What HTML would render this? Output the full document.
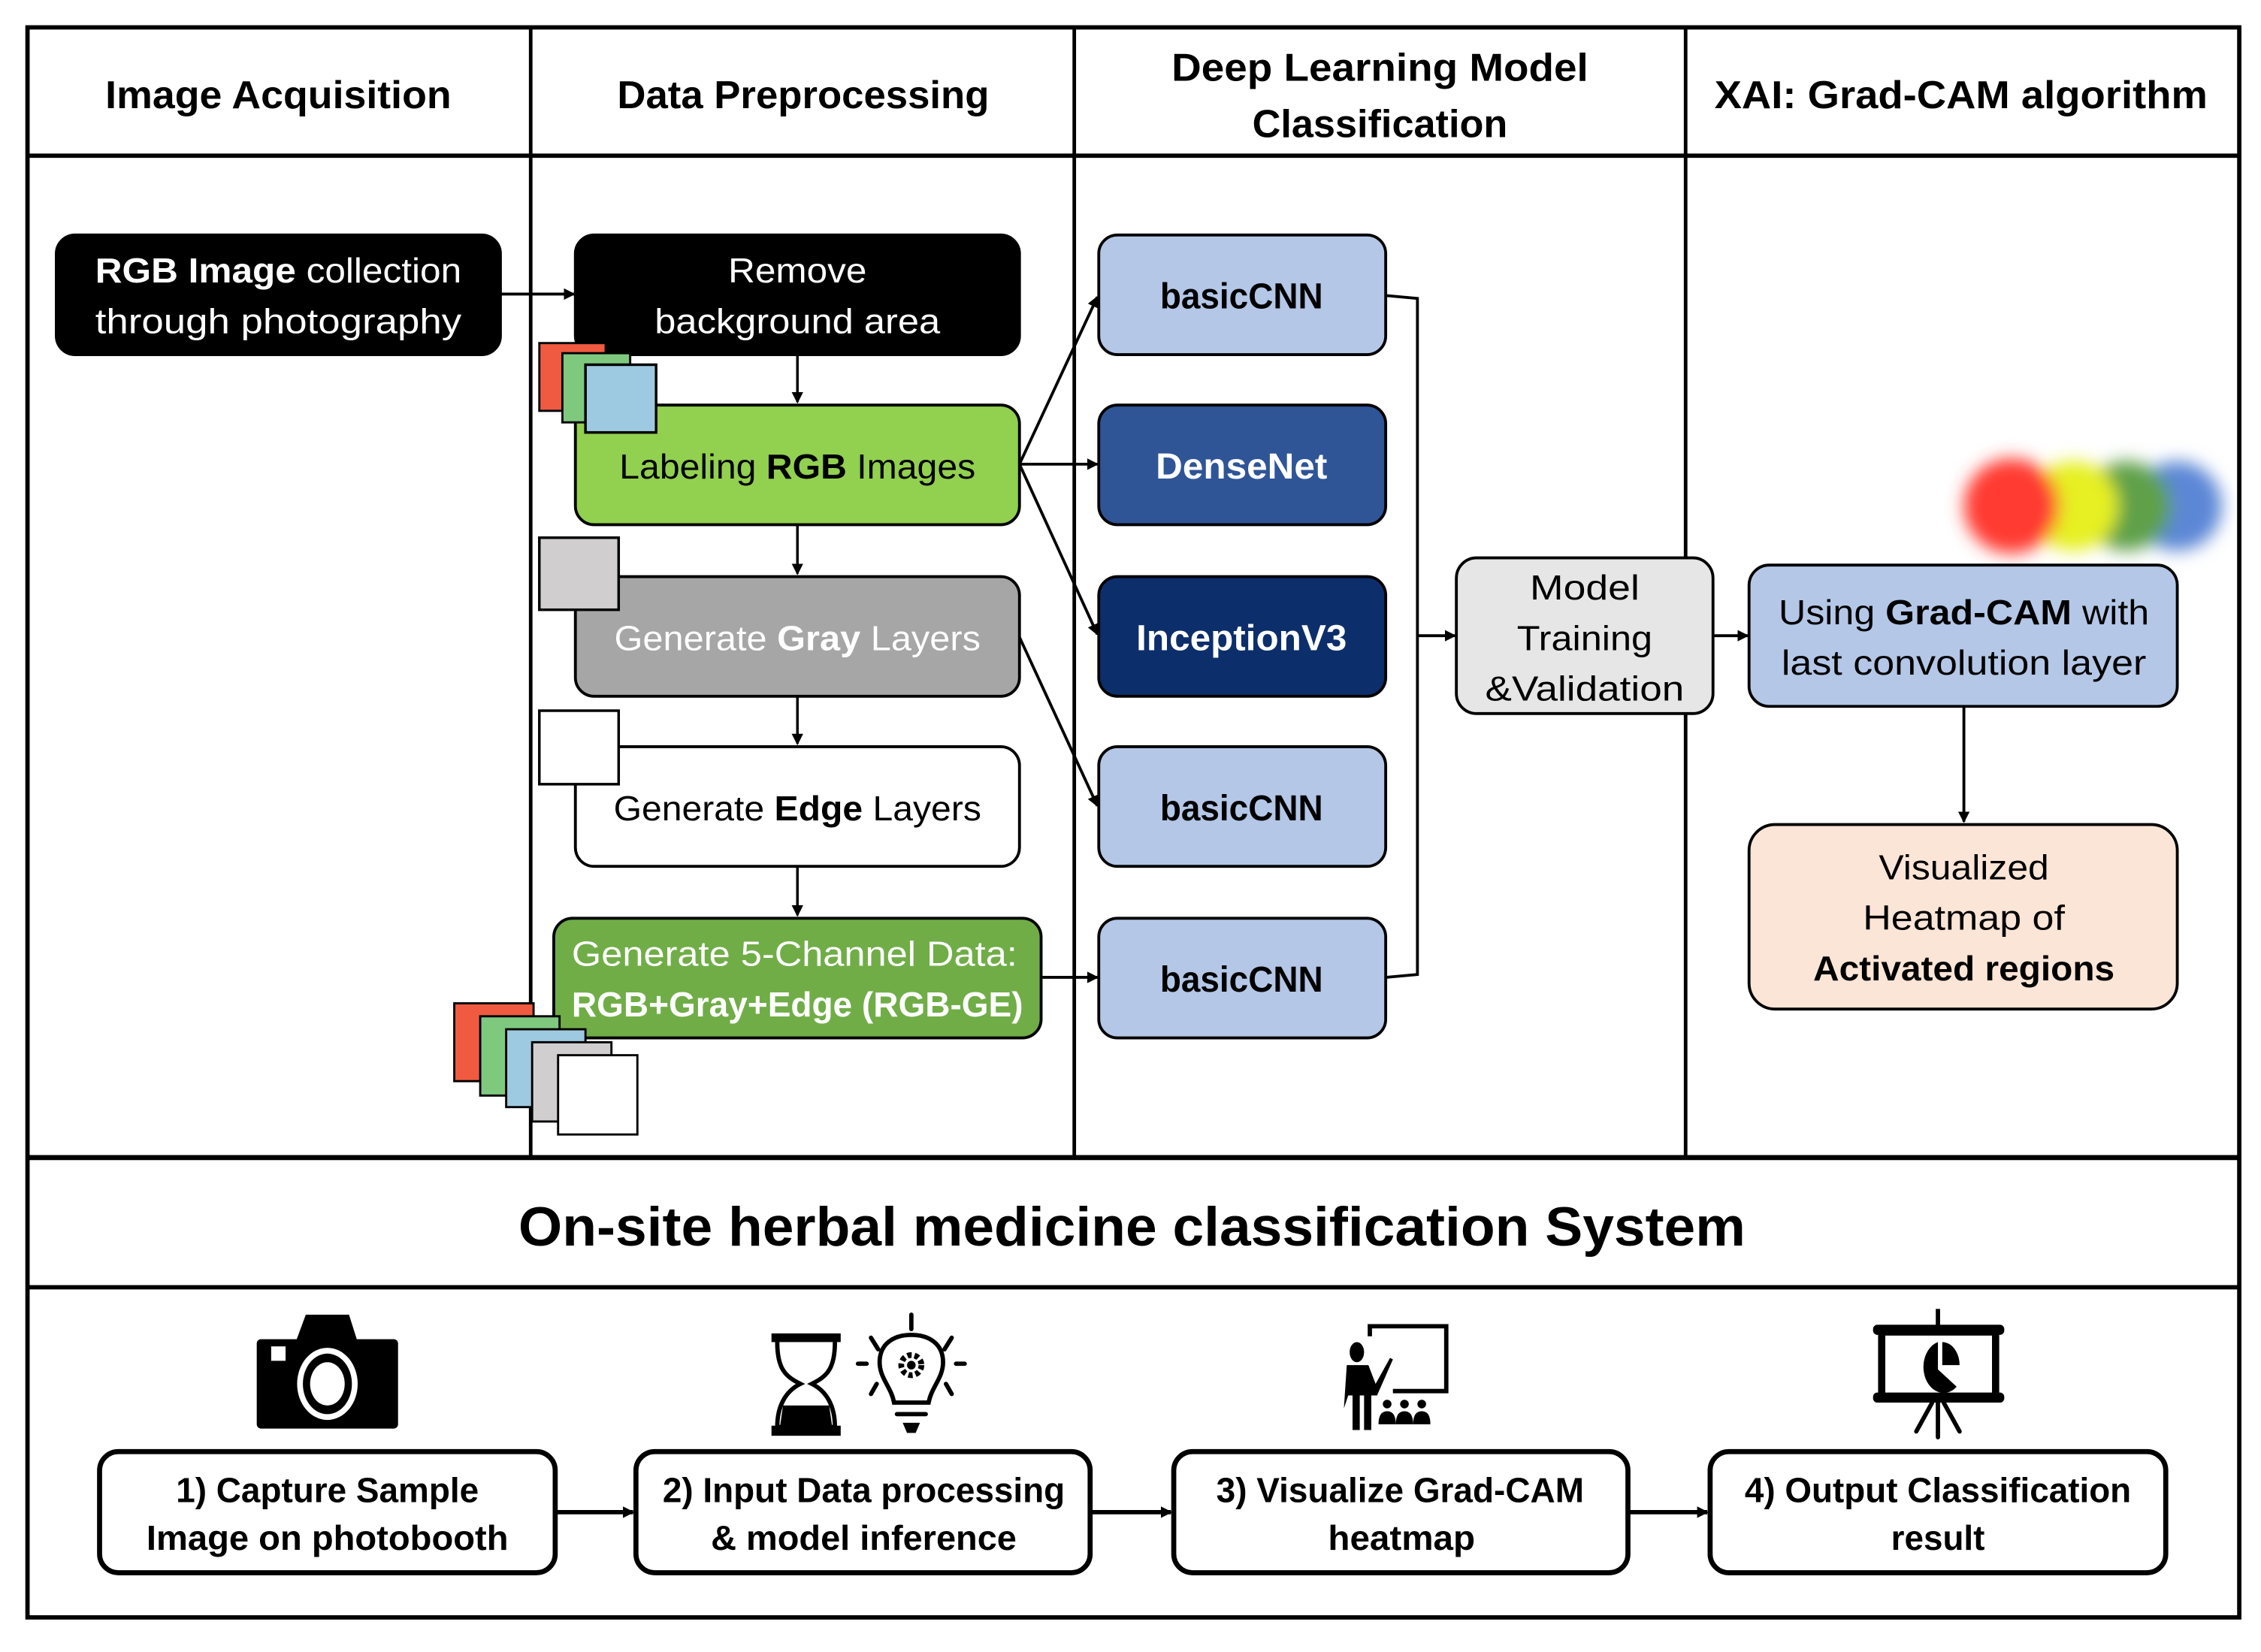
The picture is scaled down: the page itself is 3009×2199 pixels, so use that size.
<!DOCTYPE html>
<html><head><meta charset="utf-8"><style>
html,body{margin:0;padding:0;background:#fff;}
svg{display:block;}
text{font-family:"Liberation Sans",sans-serif;}
</style></head><body>
<svg width="3009" height="2199" viewBox="0 0 1568 1146" xmlns="http://www.w3.org/2000/svg">
<defs>
<marker id="ah" markerWidth="8" markerHeight="8" refX="7" refY="4" orient="auto" markerUnits="userSpaceOnUse">
<path d="M0,0 L8,4 L0,8 Z" fill="#000"/></marker>
<filter id="bl" x="-50%" y="-50%" width="200%" height="200%"><feGaussianBlur stdDeviation="6"/></filter>
</defs>
<rect width="1568" height="1146" fill="#fff"/>
<!-- frame -->
<rect x="19" y="19" width="1534" height="1103" fill="none" stroke="#000" stroke-width="3"/>
<line x1="19" y1="108" x2="1553" y2="108" stroke="#000" stroke-width="3"/>
<line x1="19" y1="803" x2="1553" y2="803" stroke="#000" stroke-width="3.5"/>
<line x1="19" y1="893" x2="1553" y2="893" stroke="#000" stroke-width="3"/>
<line x1="368" y1="19" x2="368" y2="803" stroke="#000" stroke-width="2.5"/>
<line x1="745" y1="19" x2="745" y2="803" stroke="#000" stroke-width="2.5"/>
<line x1="1169" y1="19" x2="1169" y2="803" stroke="#000" stroke-width="2.5"/>
<!-- headers -->
<g font-weight="bold" font-size="27" text-anchor="middle" fill="#000">
<text x="193" y="75" textLength="240" lengthAdjust="spacingAndGlyphs">Image Acquisition</text>
<text x="557" y="75" textLength="258" lengthAdjust="spacingAndGlyphs">Data Preprocessing</text>
<text x="957" y="56" textLength="289" lengthAdjust="spacingAndGlyphs">Deep Learning Model</text>
<text x="957" y="95" textLength="177" lengthAdjust="spacingAndGlyphs">Classification</text>
<text x="1360" y="75" textLength="342" lengthAdjust="spacingAndGlyphs">XAI: Grad-CAM algorithm</text>
</g>
<!-- col1 -->
<rect x="39" y="163" width="308" height="83" rx="13" fill="#000" stroke="#000" stroke-width="2"/>
<g font-size="24" fill="#fff" text-anchor="middle">
<text x="193" y="196" textLength="254" lengthAdjust="spacingAndGlyphs"><tspan font-weight="bold">RGB Image</tspan> collection</text>
<text x="193" y="231" textLength="254" lengthAdjust="spacingAndGlyphs">through photography</text>
</g>
<line x1="347" y1="204" x2="398" y2="204" stroke="#000" stroke-width="2" marker-end="url(#ah)"/>
<!-- col2 -->
<rect x="399" y="163" width="308" height="83" rx="13" fill="#000" stroke="#000" stroke-width="2"/>
<g font-size="24" fill="#fff" text-anchor="middle">
<text x="553" y="196" textLength="96" lengthAdjust="spacingAndGlyphs">Remove</text>
<text x="553" y="231" textLength="198" lengthAdjust="spacingAndGlyphs">background area</text>
</g>
<line x1="553" y1="246" x2="553" y2="279" stroke="#000" stroke-width="1.8" marker-end="url(#ah)"/>
<rect x="399" y="281" width="308" height="83" rx="13" fill="#92d050" stroke="#000" stroke-width="2"/>
<rect x="374" y="238" width="46" height="47" fill="#f05a40" stroke="#000" stroke-width="1.5"/>
<rect x="390" y="245" width="47" height="48" fill="#7fc97f" stroke="#000" stroke-width="1.5"/>
<rect x="406" y="253" width="49" height="47" fill="#9ecae1" stroke="#000" stroke-width="1.8"/>
<text x="553" y="332" font-size="24" text-anchor="middle" textLength="247" lengthAdjust="spacingAndGlyphs">Labeling <tspan font-weight="bold">RGB</tspan> Images</text>
<line x1="553" y1="364" x2="553" y2="398" stroke="#000" stroke-width="1.8" marker-end="url(#ah)"/>
<rect x="399" y="400" width="308" height="83" rx="13" fill="#a6a6a6" stroke="#000" stroke-width="2"/>
<rect x="374" y="373" width="55" height="50" fill="#d0cece" stroke="#000" stroke-width="1.8"/>
<text x="553" y="451" font-size="24" fill="#fff" text-anchor="middle" textLength="254" lengthAdjust="spacingAndGlyphs">Generate <tspan font-weight="bold">Gray</tspan> Layers</text>
<line x1="553" y1="483" x2="553" y2="516" stroke="#000" stroke-width="1.8" marker-end="url(#ah)"/>
<rect x="399" y="518" width="308" height="83" rx="13" fill="#fff" stroke="#000" stroke-width="2"/>
<rect x="374" y="493" width="55" height="51" fill="#fff" stroke="#000" stroke-width="1.8"/>
<text x="553" y="569" font-size="24" text-anchor="middle" textLength="255" lengthAdjust="spacingAndGlyphs">Generate <tspan font-weight="bold">Edge</tspan> Layers</text>
<line x1="553" y1="601" x2="553" y2="635" stroke="#000" stroke-width="1.8" marker-end="url(#ah)"/>
<rect x="384" y="637" width="338" height="83" rx="13" fill="#70ad47" stroke="#000" stroke-width="2"/>
<g font-size="24" fill="#fff" text-anchor="middle">
<text x="551" y="670" textLength="309" lengthAdjust="spacingAndGlyphs">Generate 5-Channel Data:</text>
<text x="553" y="705" font-weight="bold" textLength="313" lengthAdjust="spacingAndGlyphs">RGB+Gray+Edge (RGB-GE)</text>
</g>
<rect x="315" y="696" width="55" height="54" fill="#f05a40" stroke="#000" stroke-width="1.5"/>
<rect x="333" y="705" width="55" height="55" fill="#7fc97f" stroke="#000" stroke-width="1.5"/>
<rect x="351" y="714" width="55" height="54" fill="#9ecae1" stroke="#000" stroke-width="1.5"/>
<rect x="369" y="723" width="55" height="55" fill="#d0cece" stroke="#000" stroke-width="1.5"/>
<rect x="387" y="732" width="55" height="55" fill="#fff" stroke="#000" stroke-width="1.5"/>
<!-- arrows to models -->
<g stroke="#000" stroke-width="2" fill="none" marker-end="url(#ah)">
<line x1="707" y1="322" x2="761" y2="206"/>
<line x1="707" y1="322" x2="761" y2="322"/>
<line x1="707" y1="322" x2="761" y2="440"/>
<line x1="707" y1="442" x2="761" y2="559"/>
<line x1="722" y1="678" x2="761" y2="678"/>
</g>
<!-- models -->
<rect x="762" y="163" width="199" height="83" rx="13" fill="#b4c7e7" stroke="#000" stroke-width="2"/>
<rect x="762" y="281" width="199" height="83" rx="13" fill="#2f5597" stroke="#000" stroke-width="2"/>
<rect x="762" y="400" width="199" height="83" rx="13" fill="#0c2f6b" stroke="#000" stroke-width="2"/>
<rect x="762" y="518" width="199" height="83" rx="13" fill="#b4c7e7" stroke="#000" stroke-width="2"/>
<rect x="762" y="637" width="199" height="83" rx="13" fill="#b4c7e7" stroke="#000" stroke-width="2"/>
<g font-size="25" font-weight="bold" text-anchor="middle">
<text x="861" y="214" textLength="113" lengthAdjust="spacingAndGlyphs">basicCNN</text>
<text x="861" y="332" fill="#fff" textLength="119" lengthAdjust="spacingAndGlyphs">DenseNet</text>
<text x="861" y="451" fill="#fff" textLength="146" lengthAdjust="spacingAndGlyphs">InceptionV3</text>
<text x="861" y="569" textLength="113" lengthAdjust="spacingAndGlyphs">basicCNN</text>
<text x="861" y="688" textLength="113" lengthAdjust="spacingAndGlyphs">basicCNN</text>
</g>
<polyline points="961,205 983,207 983,676 961,678" fill="none" stroke="#000" stroke-width="2"/>
<line x1="983" y1="441" x2="1009" y2="441" stroke="#000" stroke-width="2" marker-end="url(#ah)"/>
<rect x="1010" y="387" width="178" height="108" rx="14" fill="#e7e6e6" stroke="#000" stroke-width="2"/>
<g font-size="24" text-anchor="middle">
<text x="1099" y="416" textLength="76" lengthAdjust="spacingAndGlyphs">Model</text>
<text x="1099" y="451" textLength="94" lengthAdjust="spacingAndGlyphs">Training</text>
<text x="1099" y="486" textLength="138" lengthAdjust="spacingAndGlyphs">&amp;Validation</text>
</g>
<line x1="1188" y1="441" x2="1212" y2="441" stroke="#000" stroke-width="2" marker-end="url(#ah)"/>
<!-- blur circles -->
<g filter="url(#bl)">
<circle cx="1510" cy="351" r="31" fill="#5b87d6"/>
<circle cx="1475" cy="351" r="31" fill="#5fa04a"/>
<circle cx="1438" cy="351" r="31" fill="#e6f020"/>
<circle cx="1395" cy="351" r="33" fill="#ff3a30"/>
</g>
<rect x="1213" y="392" width="297" height="98" rx="14" fill="#b4c7e7" stroke="#000" stroke-width="2"/>
<g font-size="24" text-anchor="middle">
<text x="1362" y="433" textLength="257" lengthAdjust="spacingAndGlyphs">Using <tspan font-weight="bold">Grad-CAM</tspan> with</text>
<text x="1362" y="468" textLength="253" lengthAdjust="spacingAndGlyphs">last convolution layer</text>
</g>
<line x1="1362" y1="490" x2="1362" y2="570" stroke="#000" stroke-width="2" marker-end="url(#ah)"/>
<rect x="1213" y="572" width="297" height="128" rx="18" fill="#fbe5d6" stroke="#000" stroke-width="2"/>
<g font-size="24" text-anchor="middle">
<text x="1362" y="610" textLength="118" lengthAdjust="spacingAndGlyphs">Visualized</text>
<text x="1362" y="645" textLength="140" lengthAdjust="spacingAndGlyphs">Heatmap of</text>
<text x="1362" y="680" font-weight="bold" textLength="209" lengthAdjust="spacingAndGlyphs">Activated regions</text>
</g>
<!-- bottom title -->
<text x="785" y="864" font-size="38" font-weight="bold" text-anchor="middle" textLength="851" lengthAdjust="spacingAndGlyphs">On-site herbal medicine classification System</text>
<!-- bottom boxes -->
<g fill="#fff" stroke="#000" stroke-width="3.5">
<rect x="69" y="1007" width="316" height="84" rx="13"/>
<rect x="441" y="1007" width="315" height="84" rx="13"/>
<rect x="814" y="1007" width="315" height="84" rx="13"/>
<rect x="1186" y="1007" width="316" height="84" rx="13"/>
</g>
<g stroke="#000" stroke-width="3" marker-end="url(#ah)">
<line x1="385" y1="1049" x2="439" y2="1049"/>
<line x1="756" y1="1049" x2="812" y2="1049"/>
<line x1="1129" y1="1049" x2="1184" y2="1049"/>
</g>
<g font-size="24" font-weight="bold" text-anchor="middle">
<text x="227" y="1042" textLength="210" lengthAdjust="spacingAndGlyphs">1) Capture Sample</text>
<text x="227" y="1075" textLength="251" lengthAdjust="spacingAndGlyphs">Image on photobooth</text>
<text x="599" y="1042" textLength="279" lengthAdjust="spacingAndGlyphs">2) Input Data processing</text>
<text x="599" y="1075" textLength="212" lengthAdjust="spacingAndGlyphs">&amp; model inference</text>
<text x="971" y="1042" textLength="255" lengthAdjust="spacingAndGlyphs">3) Visualize Grad-CAM</text>
<text x="972" y="1075" textLength="102" lengthAdjust="spacingAndGlyphs">heatmap</text>
<text x="1344" y="1042" textLength="268" lengthAdjust="spacingAndGlyphs">4) Output Classification</text>
<text x="1344" y="1075" textLength="65" lengthAdjust="spacingAndGlyphs">result</text>
</g>
<!-- camera -->
<path d="M205,931 L212,912 L242,912 L248,931 Z" fill="#000"/>
<rect x="178" y="929" width="98" height="62" rx="3" fill="#000"/>
<rect x="188" y="934" width="10" height="10" fill="#fff"/>
<ellipse cx="227" cy="960" rx="21" ry="25" fill="#fff"/>
<ellipse cx="227" cy="960" rx="17" ry="21" fill="#000"/>
<ellipse cx="227" cy="960" rx="12" ry="15" fill="#fff"/>
<!-- hourglass -->
<rect x="535" y="925" width="48" height="6" fill="#000"/>
<rect x="535" y="989" width="48" height="7" fill="#000"/>
<path d="M539,931 C539,950 545,955 555,960 C545,965 539,975 539,990 L579,990 C579,975 573,965 563,960 C573,955 579,950 579,931" fill="none" stroke="#000" stroke-width="3"/>
<path d="M541,989 L543,975 L575,975 L577,989 Z" fill="#000"/>
<!-- bulb -->
<g stroke="#000" stroke-width="3" stroke-linecap="round" fill="none">
<line x1="632" y1="912" x2="632" y2="922"/>
<line x1="604" y1="928" x2="609" y2="936"/>
<line x1="660" y1="928" x2="655" y2="936"/>
<line x1="595" y1="946" x2="601" y2="946"/>
<line x1="663" y1="946" x2="669" y2="946"/>
<line x1="604" y1="967" x2="608" y2="960"/>
<line x1="660" y1="967" x2="656" y2="960"/>
<path d="M620,973 C618,962 610,956 610,945 C610,932 620,926 632,926 C644,926 654,932 654,945 C654,956 646,962 644,973 Z"/>
<line x1="622" y1="981" x2="642" y2="981"/>
</g>
<path d="M626,987 L638,987 L635,994 L629,994 Z" fill="#000"/>
<circle cx="632" cy="947" r="7" fill="none" stroke="#000" stroke-width="4" stroke-dasharray="3 2"/>
<circle cx="632" cy="947" r="3" fill="#000"/>
<!-- presenter -->
<path d="M950,927 L950,920 L1003,920 L1003,965 L966,965" fill="none" stroke="#000" stroke-width="3"/>
<ellipse cx="941" cy="938" rx="5" ry="7" fill="#000"/>
<path d="M934,947 L949,947 L954,960 L964,942 L966,943 L955,968 L951,968 L951,992 L946,992 L946,968 L943,968 L943,992 L938,992 L938,968 L935,968 L932,977 Z" fill="#000"/>
<g fill="#000">
<circle cx="962" cy="974" r="3"/><path d="M956,988 Q956,979 962,979 Q968,979 968,988 Z"/>
<circle cx="974" cy="974" r="3"/><path d="M968,988 Q968,979 974,979 Q980,979 980,988 Z"/>
<circle cx="986" cy="974" r="3"/><path d="M980,988 Q980,979 986,979 Q992,979 992,988 Z"/>
</g>
<!-- easel -->
<line x1="1344" y1="908" x2="1344" y2="920" stroke="#000" stroke-width="3"/>
<rect x="1299" y="919" width="91" height="7" rx="3" fill="#000"/>
<rect x="1299" y="966" width="91" height="7" rx="3" fill="#000"/>
<rect x="1305" y="924" width="79" height="45" fill="none" stroke="#000" stroke-width="5"/>
<path d="M1344,931 A14,18 0 1 0 1357,962 L1344,950 Z" fill="#000"/>
<path d="M1347,931 A12,16 0 0 1 1359,947 L1347,947 Z" fill="#000"/>
<g stroke="#000" stroke-width="3" stroke-linecap="round">
<line x1="1344" y1="973" x2="1344" y2="997"/>
<line x1="1340" y1="973" x2="1329" y2="993"/>
<line x1="1348" y1="973" x2="1359" y2="993"/>
</g>
</svg>
</body></html>
